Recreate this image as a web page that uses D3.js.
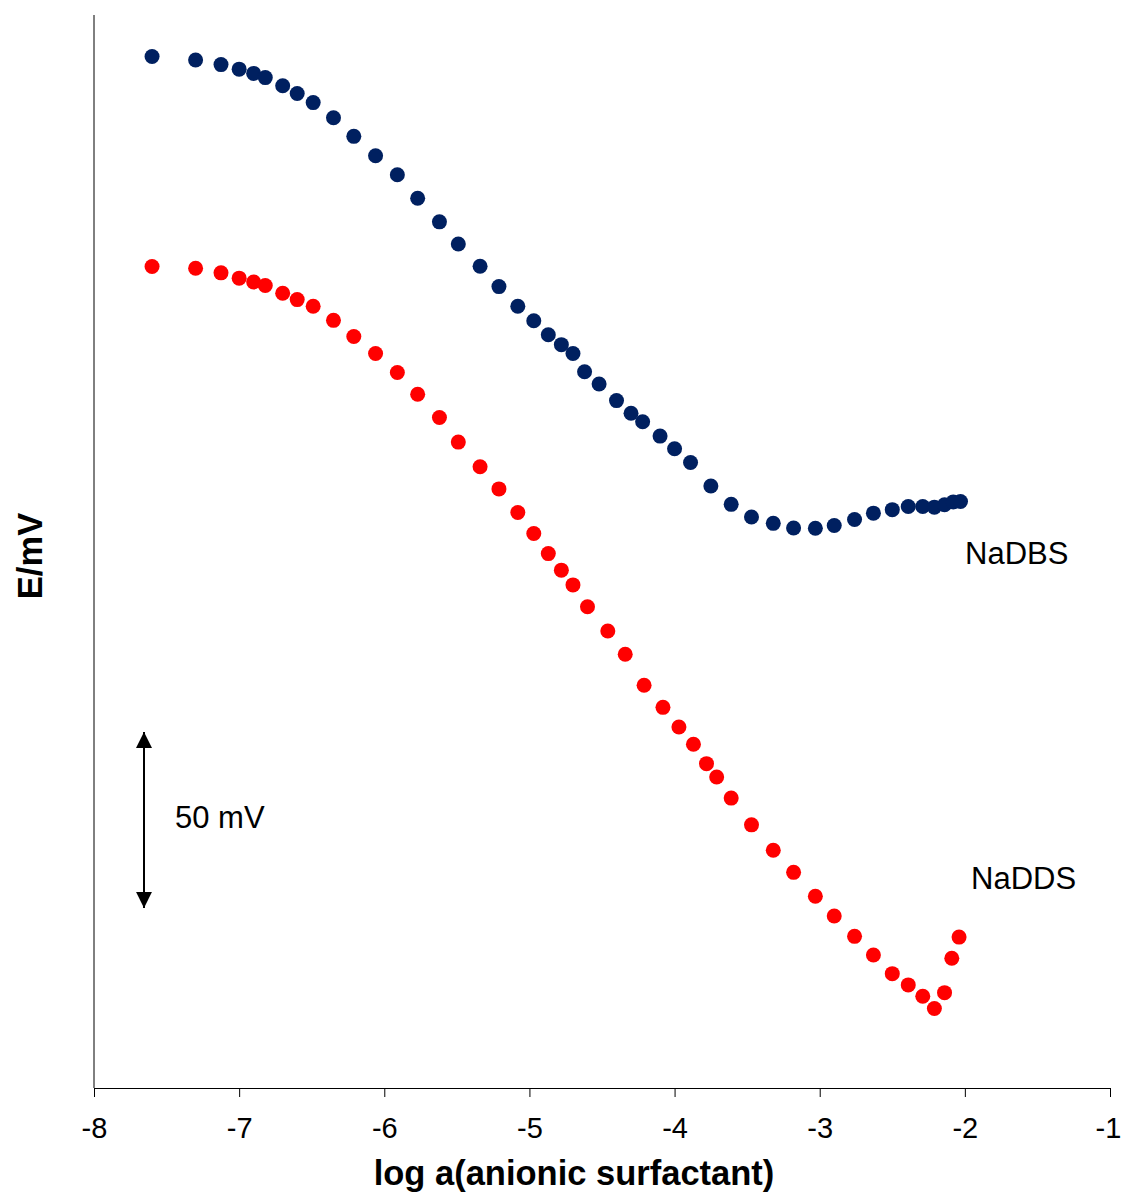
<!DOCTYPE html>
<html>
<head>
<meta charset="utf-8">
<script src="https://cdn.jsdelivr.net/npm/d3@7"></script>
<style>
  body { margin: 0; background: #fff; }
  svg { display: block; }
  text { font-family: "Liberation Sans", Arial, sans-serif; fill: #000; }
</style>
</head>
<body>
<svg id="chart" width="1122" height="1192"></svg>
<script>
// ---- data (log activity vs. relative potential in mV) ----
const dbsLogA = [-7.60,-7.30,-7.125,-7.00,-6.90,-6.82,-6.70,-6.60,-6.49,-6.35,-6.21,-6.06,-5.91,-5.77,-5.62,-5.49,-5.34,-5.21,-5.08,-4.97,-4.87,-4.78,-4.70,-4.62,-4.52,-4.40,-4.30,-4.22,-4.10,-4.00,-3.89,-3.75,-3.61,-3.47,-3.32,-3.18,-3.03,-2.90,-2.76,-2.63,-2.50,-2.39,-2.29,-2.21,-2.14,-2.08,-2.03];
const dbsE = [293.2,292.2,290.9,289.6,288.4,287.2,284.9,282.7,280.1,275.8,270.5,265.0,259.6,252.9,246.2,239.9,233.6,227.8,222.2,218.1,214.1,211.3,208.8,203.6,200.1,195.4,191.8,189.4,185.3,181.7,177.8,171.1,165.9,162.3,160.5,159.2,159.1,159.9,161.6,163.4,164.4,165.3,165.3,165.1,165.8,166.6,166.7];
const ddsLogA = [-7.60,-7.30,-7.125,-7.00,-6.90,-6.82,-6.70,-6.60,-6.49,-6.35,-6.21,-6.06,-5.91,-5.77,-5.62,-5.49,-5.34,-5.21,-5.08,-4.97,-4.87,-4.78,-4.70,-4.60,-4.46,-4.34,-4.21,-4.08,-3.97,-3.87,-3.78,-3.71,-3.61,-3.47,-3.32,-3.18,-3.03,-2.90,-2.76,-2.63,-2.50,-2.39,-2.29,-2.21,-2.14,-2.09,-2.04];
const ddsE = [233.5,233.0,231.7,230.2,229.1,228.1,225.9,224.1,222.2,218.2,213.6,208.8,203.4,197.2,190.6,183.6,176.6,170.3,163.6,157.6,151.9,147.2,143.0,136.8,129.9,123.3,114.5,108.2,102.6,97.7,92.2,88.4,82.4,74.8,67.6,61.3,54.5,48.9,43.1,37.8,32.5,29.3,26.1,22.6,27.1,36.9,42.9];
const seriesNames = ["NaDBS", "NaDDS"];
const xTicks = [-8,-7,-6,-5,-4,-3,-2,-1];
const xTickLabels = ["-8","-7","-6","-5","-4","-3","-2","-1"];
const scaleBar = [51.2, 101.2]; // 50 mV scale arrow
const xTitle = "log a(anionic surfactant)";
const yTitle = "E/mV";

// ---- layout ----
const svg = d3.select("#chart");
const x = d3.scaleLinear().domain([-8, -1]).range([94, 1110]);
const y = d3.scaleLinear().domain([0, 305]).range([1088, 15]);
const colors = ["#002060", "#ff0000"];

// y axis line (no ticks)
svg.append("line")
  .attr("x1", x(-8)).attr("x2", x(-8))
  .attr("y1", y(305)).attr("y2", y(0))
  .attr("stroke", "#000").attr("stroke-width", 1);

// x axis
const xAxis = d3.axisBottom(x)
  .tickValues(xTicks)
  .tickFormat((d, i) => xTickLabels[i])
  .tickSize(9)
  .tickSizeOuter(0)
  .tickPadding(20);
const gx = svg.append("g")
  .attr("transform", `translate(0,${y(0)})`)
  .call(xAxis);
gx.select(".domain").attr("stroke", "#000").attr("stroke-width", 1);
gx.selectAll(".tick line").attr("stroke", "#000").attr("stroke-width", 1);
gx.selectAll(".tick text")
  .style("font-family", '"Liberation Sans", Arial, sans-serif')
  .style("font-size", "29px")
  .attr("fill", "#000")
  .attr("dx", d => d === -1 ? -2 : 0);

// series
const series = [
  { name: seriesNames[0], xs: dbsLogA, ys: dbsE, color: colors[0] },
  { name: seriesNames[1], xs: ddsLogA, ys: ddsE, color: colors[1] }
];
series.forEach(s => {
  svg.append("g").selectAll("circle")
    .data(s.xs.map((v, i) => [v, s.ys[i]]))
    .join("circle")
    .attr("cx", d => x(d[0]))
    .attr("cy", d => y(d[1]))
    .attr("r", 7.5)
    .attr("fill", s.color);
});

// series labels
svg.append("text").attr("x", 965).attr("y", 564)
  .style("font-size", "31px").text(seriesNames[0]);
svg.append("text").attr("x", 971).attr("y", 889)
  .style("font-size", "31px").text(seriesNames[1]);

// 50 mV scale arrow
const defs = svg.append("defs");
defs.append("marker").attr("id", "ah")
  .attr("viewBox", "0 0 10 10").attr("refX", 10).attr("refY", 5)
  .attr("markerWidth", 8).attr("markerHeight", 8)
  .attr("markerUnits", "strokeWidth")
  .attr("orient", "auto-start-reverse")
  .append("path").attr("d", "M0,0 L10,5 L0,10 Z").attr("fill", "#000");
svg.append("line")
  .attr("x1", 144).attr("x2", 144)
  .attr("y1", y(scaleBar[0])).attr("y2", y(scaleBar[1]))
  .attr("stroke", "#000").attr("stroke-width", 2)
  .attr("marker-start", "url(#ah)").attr("marker-end", "url(#ah)");
svg.append("text").attr("x", 175).attr("y", 828)
  .style("font-size", "31px").text("50 mV");

// axis titles
svg.append("text")
  .attr("x", 574).attr("y", 1185)
  .attr("text-anchor", "middle")
  .style("font-size", "34.5px").style("font-weight", "bold")
  .text(xTitle);
svg.append("text")
  .attr("transform", "translate(42,556) rotate(-90)")
  .attr("text-anchor", "middle")
  .style("font-size", "34.5px").style("font-weight", "bold")
  .text(yTitle);
</script>
</body>
</html>
